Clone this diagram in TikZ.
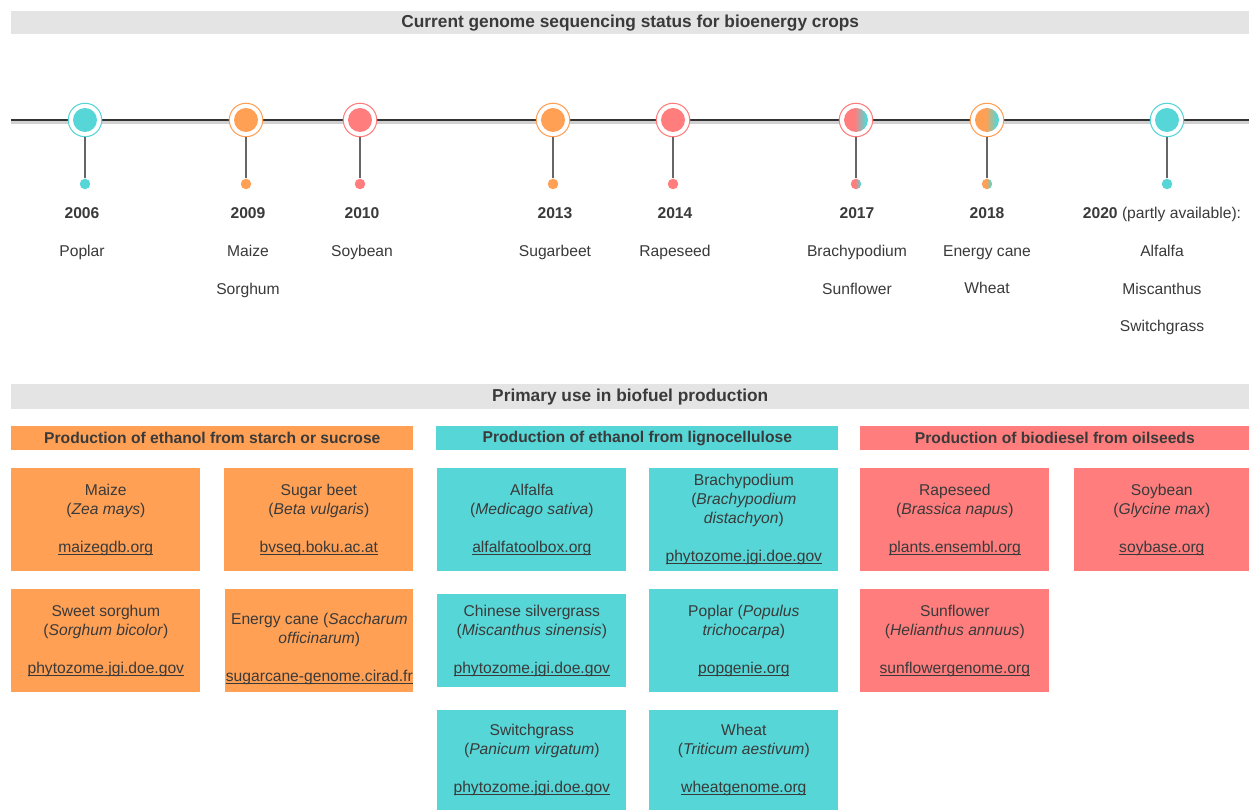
\documentclass[tikz,border=0pt]{standalone}
\usepackage{fontspec}
\setmainfont{Liberation Sans}
\definecolor{cropcyan}{RGB}{86,214,214}
\definecolor{croporange}{RGB}{255,160,85}
\definecolor{croprose}{RGB}{255,125,125}
\definecolor{bargray}{RGB}{228,228,228}
\definecolor{inkgray}{RGB}{58,58,58}
\pgfdeclarehorizontalshading{rosecyan}{100bp}{color(0bp)=(croprose); color(47bp)=(croprose); color(70bp)=(cropcyan); color(100bp)=(cropcyan)}
\pgfdeclarehorizontalshading{orangecyan}{100bp}{color(0bp)=(croporange); color(47bp)=(croporange); color(70bp)=(cropcyan); color(100bp)=(cropcyan)}
\newcommand{\cropfont}{\fontsize{8.9}{10.8}\selectfont}
\newcommand{\barfont}{\fontsize{9.85}{11.8}\selectfont}
\newcommand{\lnk}[1]{{\setbox0\hbox{#1}\rlap{\rule[-1.4pt]{\wd0}{0.5pt}}\box0}}
\tikzset{
    bar/.style={fill=bargray, minimum width=24.76cm, minimum height=#1, inner sep=0pt, anchor=north west, font=\barfont\bfseries, text=inkgray},
    head/.style={fill=#1, minimum width=8.04cm, minimum height=0.48cm, inner sep=0pt, anchor=north west, font=\cropfont\bfseries, text=inkgray},
    crop/.style={fill=#1, minimum width=3.78cm, minimum height=2.06cm, inner sep=0pt, anchor=north west, align=center, font=\cropfont, text=inkgray},
    ring/.style={circle, draw=#1, line width=0.6pt, fill=white, minimum size=0.67cm, inner sep=0pt},
    core/.style={circle, minimum size=0.48cm, inner sep=0pt},
    dot/.style={circle, minimum size=0.21cm, inner sep=0pt},
    fcyan/.style={fill=cropcyan},
    forange/.style={fill=croporange},
    frose/.style={fill=croprose},
    grose/.style={shade, shading=rosecyan},
    gorange/.style={shade, shading=orangecyan},
    stem/.style={draw=black!60, line width=0.8pt},
    year/.style={font=\cropfont\bfseries, text=inkgray, text height=6.5pt, text depth=1.8pt, inner sep=0pt},
    cname/.style={font=\cropfont, text=inkgray, text height=6.5pt, text depth=1.8pt, inner sep=0pt},
}
\begin{document}
\begin{tikzpicture}[x=0.02cm, y=-0.02cm]
    \useasboundingbox[fill=white] (0,0) rectangle (1249,810);
    \node[bar=0.46cm] (title) at (11,11) {Current genome sequencing status for bioenergy crops};
    \coordinate (tl0) at (11,120);
    \coordinate (tl1) at (1249,120);
    \draw[black!18, line width=2.6pt] ([yshift=-0.7pt]tl0) -- ([yshift=-0.7pt]tl1);
    \draw[black!80, line width=1.2pt] (tl0) -- (tl1);
    \foreach \x/\rc/\cs/\n in {85/cropcyan/fcyan/a, 246/croporange/forange/b, 360/croprose/frose/c, 553/croporange/forange/d, 673/croprose/frose/e, 856/croprose/grose/f, 987/croporange/gorange/g, 1167/cropcyan/fcyan/h}{
        \node[ring=\rc] (r\n) at (\x,120) {};
        \node[core, \cs] (k\n) at (\x,120) {};
        \node[dot, \cs] (d\n) at (\x,184) {};
        \draw[stem] (r\n) -- (d\n);
        }
    \foreach \x/\t in {82/2006, 248/2009, 362/2010, 555/2013, 675/2014, 857/2017, 987/2018}{
        \node[year] (y\t) at (\x,214) {\t};
        }
    \node[cname] (y2020) at (1162,214) {\textbf{2020} (partly available):};
    \foreach \x/\y/\t [count=\i] in {82/252/Poplar, 248/252/Maize, 248/290/Sorghum, 362/252/Soybean, 555/252/Sugarbeet, 675/252/Rapeseed, 857/252/Brachypodium, 857/290/Sunflower, 987/252/Energy cane, 987/289/Wheat, 1162/252/Alfalfa, 1162/290/Miscanthus, 1162/327/Switchgrass}{
        \node[cname] (n\i) at (\x,\y) {\t};
        }

    \node[bar=0.5cm] (primary) at (11,384) {Primary use in biofuel production};
    \node[head=croporange] (starch) at (11,426) {Production of ethanol from starch or sucrose};
    \node[head=cropcyan] (ligno) at (436,426) {Production of ethanol from lignocellulose};
    \node[head=croprose, minimum width=7.78cm] (oil) at (860,426) {Production of biodiesel from oilseeds};

    \node[crop=croporange] (maize) at (11,468) {Maize\\(\textit{Zea mays})\\[10.8pt]\lnk{maizegdb.org}};
    \node[crop=croporange] (beet) at (224,468) {Sugar beet\\(\textit{Beta vulgaris})\\[10.8pt]\lnk{bvseq.boku.ac.at}};
    \node[crop=croporange] (sorghum) at (11,589) {Sweet sorghum\\(\textit{Sorghum bicolor})\\[10.8pt]\lnk{phytozome.jgi.doe.gov}};
    \node[crop=croporange, minimum width=3.76cm] (cane) at (225,589) {\rule{0pt}{16pt}Energy cane (\textit{Saccharum}\\\textit{officinarum})\\[10.8pt]\lnk{sugarcane-genome.cirad.fr}};

    \node[crop=cropcyan] (alfalfa) at (437,468) {Alfalfa\\(\textit{Medicago sativa})\\[10.8pt]\lnk{alfalfatoolbox.org}};
    \node[crop=cropcyan] (brachy) at (649,468) {Brachypodium\\(\textit{Brachypodium}\\\textit{distachyon})\\[10.8pt]\lnk{phytozome.jgi.doe.gov}};
    \node[crop=cropcyan, minimum height=1.86cm] (silver) at (437,594) {Chinese silvergrass\\(\textit{Miscanthus sinensis})\\[10.8pt]\lnk{phytozome.jgi.doe.gov}};
    \node[crop=cropcyan] (poplar) at (649,589) {Poplar (\textit{Populus}\\\textit{trichocarpa})\\[10.8pt]\lnk{popgenie.org}};
    \node[crop=cropcyan, minimum height=2cm] (switch) at (437,710) {Switchgrass\\(\textit{Panicum virgatum})\\[10.8pt]\lnk{phytozome.jgi.doe.gov}};
    \node[crop=cropcyan, minimum height=2cm] (wheat) at (649,710) {Wheat\\(\textit{Triticum aestivum})\\[10.8pt]\lnk{wheatgenome.org}};

    \node[crop=croprose] (rape) at (860,468) {Rapeseed\\(\textit{Brassica napus})\\[10.8pt]\lnk{plants.ensembl.org}};
    \node[crop=croprose, minimum width=3.5cm] (soy) at (1074,468) {Soybean\\(\textit{Glycine max})\\[10.8pt]\lnk{soybase.org}};
    \node[crop=croprose] (sunfl) at (860,589) {Sunflower\\(\textit{Helianthus annuus})\\[10.8pt]\lnk{sunflowergenome.org}};
\end{tikzpicture}
\end{document}
